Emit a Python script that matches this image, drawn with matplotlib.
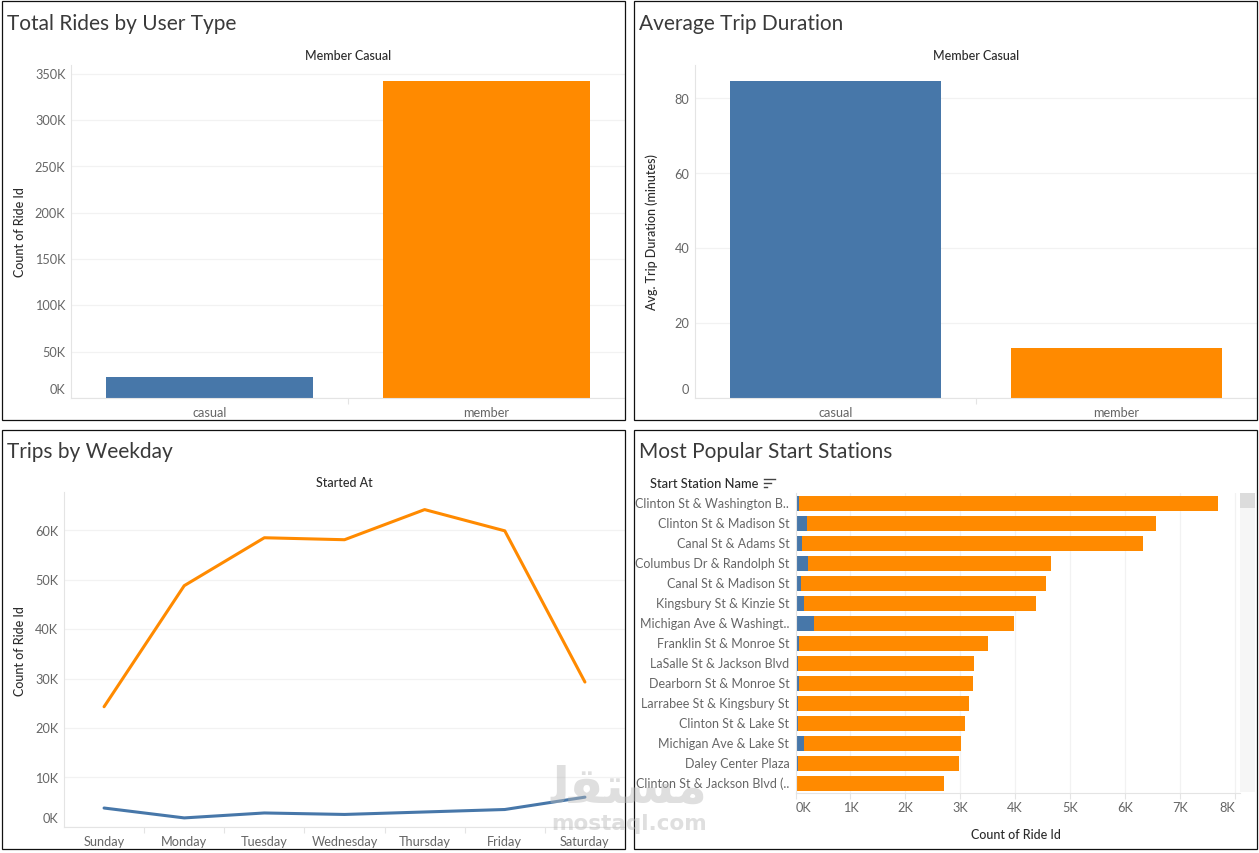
import matplotlib

matplotlib.use("Agg")
import matplotlib.pyplot as plt
from matplotlib.lines import Line2D
from matplotlib.patches import Rectangle
from matplotlib.transforms import ScaledTranslation

W, H = 1259, 854
Y_SHIFT = 0.8
BLUE = "#4777a9"
ORANGE = "#ff8a00"
GRID = "#f2f2f2"
AXIS = "#e4e4e4"
TICK_TEXT = "#666666"
HEAD_TEXT = "#2b2b2b"

user_types = ["casual", "member"]
total_rides = [22700, 342000]
avg_duration = [84.8, 13.4]

weekdays = ["Sunday", "Monday", "Tuesday", "Wednesday", "Thursday", "Friday", "Saturday"]
member_trips = [24300, 48800, 58500, 58100, 64200, 59900, 29300]
casual_trips = [3800, 1800, 2800, 2500, 3000, 3500, 6000]

stations = [
    "Clinton St & Washington B..",
    "Clinton St & Madison St",
    "Canal St & Adams St",
    "Columbus Dr & Randolph St",
    "Canal St & Madison St",
    "Kingsbury St & Kinzie St",
    "Michigan Ave & Washingt..",
    "Franklin St & Monroe St",
    "LaSalle St & Jackson Blvd",
    "Dearborn St & Monroe St",
    "Larrabee St & Kingsbury St",
    "Clinton St & Lake St",
    "Michigan Ave & Lake St",
    "Daley Center Plaza",
    "Clinton St & Jackson Blvd (..",
]
station_totals = [7700, 6570, 6330, 4650, 4560, 4370, 3970, 3500, 3250, 3230, 3150, 3080, 3010, 2970, 2700]
station_casual = [70, 200, 110, 220, 90, 150, 330, 70, 40, 70, 50, 40, 160, 50, 15]

plt.rcParams["font.family"] = ["Lato", "DejaVu Sans"]


def fy(y):
    return 1 - (y + Y_SHIFT) / H


def px_box(left, top, right, bottom):
    return [left / W, fy(bottom), (right - left) / W, (bottom - top) / H]


def px_text(fig, x, y, text, size=9, color=HEAD_TEXT, **kwargs):
    kwargs.setdefault("ha", "center")
    kwargs.setdefault("va", "center")
    return fig.text(x / W, fy(y), text, fontsize=size, color=color, **kwargs)


def k_label(value):
    return f"{int(round(value / 1000))}K"


def nudge_up(label, pixels):
    label.set_transform(label.get_transform() + ScaledTranslation(0, pixels / 100, fig.dpi_scale_trans))


def style_axes(ax):
    for name in ["top", "right"]:
        ax.spines[name].set_visible(False)
    for name in ["left", "bottom"]:
        ax.spines[name].set_color(AXIS)
        ax.spines[name].set_linewidth(0.8)
    ax.set_axisbelow(True)
    ax.tick_params(axis="both", length=0, labelsize=9.2, labelcolor=TICK_TEXT)


def category_axis(ax, labels):
    # labels sit at the band centres, small tick marks at the band edges
    ax.set_xticks(range(len(labels)), labels=labels)
    ax.set_xlim(-0.5, len(labels) - 0.5)
    ax.set_xticks([i + 0.5 for i in range(len(labels) - 1)], minor=True)
    ax.tick_params(axis="x", which="minor", length=4, color=AXIS, width=0.8)
    ax.tick_params(axis="x", which="major", pad=6)


def value_axis(ax, ticks, labels, top, pad=4):
    ax.set_ylim(0, top)
    ax.set_yticks(ticks, labels=labels)
    ax.grid(axis="y", color=GRID, linewidth=0.9)
    ax.tick_params(axis="y", pad=pad)
    # the zero label sits above the axis line
    zero = ax.get_yticklabels()[0]
    zero.set_verticalalignment("bottom")
    nudge_up(zero, 2.5)
    for label in ax.get_yticklabels()[1:]:
        nudge_up(label, 0.8)


fig = plt.figure(figsize=(W / 100, H / 100), dpi=100, facecolor="white")

# top left
ax = fig.add_axes(px_box(71, 65, 625, 398))
style_axes(ax)
ax.bar(range(2), total_rides, width=0.75, color=[BLUE, ORANGE])
category_axis(ax, user_types)
ticks = [0, 50000, 100000, 150000, 200000, 250000, 300000, 350000]
value_axis(ax, ticks, [k_label(t) for t in ticks], 359700)

# top right
ax = fig.add_axes(px_box(695, 65, 1257, 398))
style_axes(ax)
ax.bar(range(2), avg_duration, width=0.75, color=[BLUE, ORANGE])
category_axis(ax, user_types)
ticks = [0, 20, 40, 60, 80]
value_axis(ax, ticks, [str(t) for t in ticks], 89)

# bottom left
ax = fig.add_axes(px_box(64, 492, 625, 827))
style_axes(ax)
ax.plot(range(7), member_trips, color=ORANGE, linewidth=2.2, solid_capstyle="round")
ax.plot(range(7), casual_trips, color=BLUE, linewidth=2.2, solid_capstyle="round")
category_axis(ax, weekdays)
ticks = [0, 10000, 20000, 30000, 40000, 50000, 60000]
value_axis(ax, ticks, [k_label(t) for t in ticks], 67800)

# bottom right, stacked
ax = fig.add_axes(px_box(795.6, 493.5, 1240, 793.5))
style_axes(ax)
rows = list(range(len(stations)))
member_part = [t - c for t, c in zip(station_totals, station_casual)]
ax.barh(rows, station_casual, height=0.75, color=BLUE)
ax.barh(rows, member_part, left=station_casual, height=0.75, color=ORANGE)
ax.set_yticks(rows, labels=stations, fontsize=9)
ax.set_ylim(14.5, -0.5)
ax.set_xlim(0, 8095)
ticks = list(range(0, 9000, 1000))
ax.set_xticks(ticks, labels=[k_label(t) for t in ticks])
ax.grid(axis="x", color=GRID, linewidth=0.9)
ax.tick_params(axis="x", length=4, color=AXIS, width=0.8, pad=1.5)
ax.tick_params(axis="y", pad=4.5)
for label in ax.get_yticklabels():
    nudge_up(label, 1.2)
ax.get_xticklabels()[0].set_horizontalalignment("left")
ax.get_xticklabels()[-1].set_horizontalalignment("right")

# titles and field headers
for x, y, text in [
    (7, 23.5, "Total Rides by User Type"),
    (639, 23.5, "Average Trip Duration"),
    (7, 451.5, "Trips by Weekday"),
    (639, 451.5, "Most Popular Start Stations"),
]:
    px_text(fig, x, y, text, size=15, color="#3a3a3a", ha="left")

px_text(fig, 348, 55.5, "Member Casual", size=9, weight="medium")
px_text(fig, 976, 55.5, "Member Casual", size=9, weight="medium")
px_text(fig, 344, 482.5, "Started At", size=9, weight="medium")
px_text(fig, 650, 483.5, "Start Station Name", size=9.3, ha="left", weight="medium")
px_text(fig, 1016, 834.5, "Count of Ride Id", size=9, weight="medium")
px_text(fig, 20, 231, "Count of Ride Id", size=9, rotation=90, weight="medium")
px_text(fig, 652, 231, "Avg. Trip Duration (minutes)", size=9, rotation=90, weight="medium")
px_text(fig, 20, 650, "Count of Ride Id", size=9, rotation=90, weight="medium")

# sort icon next to the station header
for y, x_end in [(479, 775), (483, 771), (487, 767)]:
    fig.add_artist(Line2D([764 / W, x_end / W], [fy(y), fy(y)], color="#444444", linewidth=1.0))

# scroll bar
fig.add_artist(Rectangle((1240 / W, fy(792)), 15 / W, 299 / H, color="#f6f6f6", linewidth=0))
fig.add_artist(Rectangle((1240 / W, fy(508)), 15 / W, 15 / H, color="#dcdcdc", linewidth=0))

# panel frames
for left, top, right, bottom in [(2, 1, 625, 420), (634, 1, 1257, 420), (2, 430, 625, 849), (634, 430, 1257, 849)]:
    fig.add_artist(Rectangle((left / W, fy(bottom)), (right - left) / W, (bottom - top) / H,
                             fill=False, edgecolor="#111111", linewidth=0.9))

# site watermark, see-through so the lines below still show
px_text(fig, 629, 823, "mostaql.com", size=15.5, color="#b8b8b8", weight="bold", alpha=0.45, family="DejaVu Sans")
px_text(fig, 629, 788, "\ufedf\ufed8\ufe98\ufeb4\ufee3", size=36, color="#b8b8b8", weight="bold", alpha=0.45, family="DejaVu Sans")

fig.savefig("out.png", dpi=100)
